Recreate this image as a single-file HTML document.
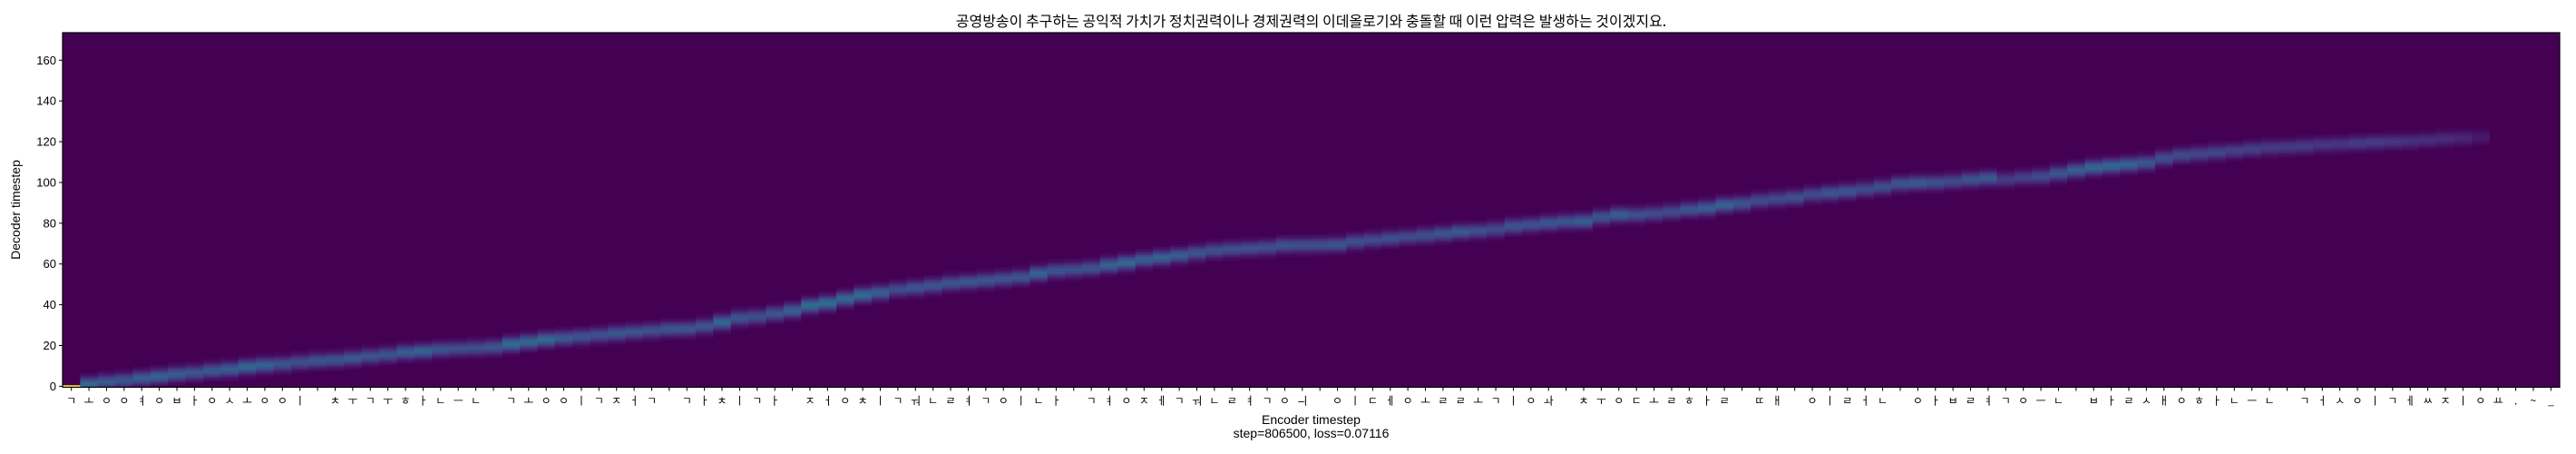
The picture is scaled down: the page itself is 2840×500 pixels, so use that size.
<!DOCTYPE html>
<html><head><meta charset="utf-8">
<style>
html,body{margin:0;padding:0;background:#fff;width:2840px;height:500px;overflow:hidden}
svg text{font-family:"Liberation Sans","Noto Sans CJK KR",sans-serif;fill:#000}
</style></head>
<body>
<svg id="chart" width="2840" height="500" xmlns="http://www.w3.org/2000/svg">
<text x="1445.5" y="29" font-size="16" text-anchor="middle" style="font-family:'Noto Sans CJK KR',sans-serif">공영방송이 추구하는 공익적 가치가 정치권력이나 경제권력의 이데올로기와 충돌할 때 이런 압력은 발생하는 것이겠지요.</text>
<g id="cells"></g>
<g id="xaxis"></g>
<g id="yaxis"></g>
<text x="1445.5" y="467" font-size="14" text-anchor="middle">Encoder timestep</text>
<text x="1445.5" y="482" font-size="14" text-anchor="middle">step=806500, loss=0.07116</text>
<text transform="translate(22,231) rotate(-90)" font-size="14" text-anchor="middle">Decoder timestep</text>
</svg>
<script>
const sentence = "공영방송이 추구하는 공익적 가치가 정치권력이나 경제권력의 이데올로기와 충돌할 때 이런 압력은 발생하는 것이겠지요.~_";
const yTicks = [0,20,40,60,80,100,120,140,160];
const decoderSteps = 174;
// peak decoder timestep for each encoder column
const alignCenter = [0.4,1,2.2,3,4,4.9,6,6.7,7.7,8.4,9.6,10.4,11,11.9,12.6,13,13.8,14.8,15.6,16.7,17.3,18.2,18.5,18.8,19.3,20.7,21.8,23,23.7,24.4,25.2,26,26.7,27.4,28.1,
28.3,29.5,31.5,33.5,34.2,35.7,37.2,39.7,40.9,43,44.9,46,47.6,48.4,49.4,50.6,51.3,52,52.8,53.6,55.4,56.8,57.3,58,59.5,60.7,62.2,63.2,64.3,65.5,66.7,67.3,67.7,68.2,69.2,
69.3,69.4,69.6,71,71.9,72.6,73.4,74.1,74.9,75.9,76.3,77.1,78.6,79.3,80.1,80.8,81.1,83,84.2,84.2,84.8,85.7,86.8,87.5,89,89.7,91.2,92,92.7,94.2,94.9,95.7,96.7,97.9,99.4,
99.8,100,100.7,101.5,102.2,101.5,102.5,103,104.5,106,107.4,108.2,108.9,109.7,111.9,113.4,114.1,114.9,115.6,116.4,117.1,117.4,117.9,118.6,118.9,119.3,119.8,120.1,120.4,120.8,121.6,121.9,122.3,
0,0,0,0];
// peak attention weight for each encoder column
const alignPeak = [1.0,0.38,0.32,0.3,0.34,0.36,0.33,0.3,0.32,0.34,0.38,0.36,0.3,0.28,0.3,0.3,0.32,0.3,0.3,0.34,0.36,0.3,0.27,0.28,0.3,0.4,0.38,0.4,0.32,0.3,0.28,0.32,0.3,0.28,0.3,
0.3,0.3,0.38,0.3,0.28,0.3,0.34,0.4,0.4,0.38,0.4,0.34,0.26,0.3,0.3,0.3,0.3,0.3,0.3,0.3,0.36,0.3,0.28,0.3,0.36,0.38,0.34,0.36,0.34,0.3,0.28,0.28,0.28,0.28,0.3,
0.28,0.28,0.3,0.28,0.26,0.28,0.26,0.28,0.3,0.32,0.28,0.26,0.3,0.28,0.3,0.3,0.34,0.3,0.34,0.28,0.26,0.26,0.3,0.34,0.36,0.3,0.26,0.26,0.28,0.26,0.3,0.3,0.26,0.28,0.3,
0.32,0.28,0.26,0.3,0.32,0.2,0.22,0.26,0.3,0.34,0.38,0.38,0.36,0.3,0.28,0.26,0.24,0.24,0.22,0.22,0.2,0.2,0.2,0.18,0.18,0.2,0.2,0.18,0.16,0.15,0.14,0.12,0.08,
0,0,0,0];
// vertical spread (rows) of the attention band
const alignSpread = 2.3;
const peakScale = 0.88;

const L=69, R=2822, T=36, B=426.5;
const nCols = 142;
const cw=(R-L)/nCols, rh=(B-T)/decoderSteps;
function xCenter(j){return L+(j+0.5)*cw;}
function yVal(v){return B-(v+0.5)*rh;}

const VIR=[[0,[68,1,84]],[0.1,[72,36,117]],[0.2,[65,68,135]],[0.3,[53,95,141]],[0.4,[42,120,142]],[0.5,[33,145,140]],[0.6,[34,168,132]],[0.7,[68,191,112]],[0.8,[122,209,81]],[0.9,[189,223,38]],[1,[253,231,37]]];
function viridis(t){t=Math.max(0,Math.min(1,t));for(let i=1;i<VIR.length;i++){if(t<=VIR[i][0]){const a=VIR[i-1],b=VIR[i],f=(t-a[0])/(b[0]-a[0]);return 'rgb('+a[1].map((c,k)=>Math.round(c+(b[1][k]-c)*f)).join(',')+')';}}return 'rgb(253,231,37)';}

function decompose(s){const I="ㄱㄲㄴㄷㄸㄹㅁㅂㅃㅅㅆㅇㅈㅉㅊㅋㅌㅍㅎ",V="ㅏㅐㅑㅒㅓㅔㅕㅖㅗㅘㅙㅚㅛㅜㅝㅞㅟㅠㅡㅢㅣ",F=["","ㄱ","ㄲ","ㄳ","ㄴ","ㄵ","ㄶ","ㄷ","ㄹ","ㄺ","ㄻ","ㄼ","ㄽ","ㄾ","ㄿ","ㅀ","ㅁ","ㅂ","ㅄ","ㅅ","ㅆ","ㅇ","ㅈ","ㅊ","ㅋ","ㅌ","ㅍ","ㅎ"];const out=[];for(const ch of s){const c=ch.charCodeAt(0)-0xAC00;if(c>=0&&c<11172){out.push(I[Math.floor(c/588)]);out.push(V[Math.floor((c%588)/28)]);if(c%28)out.push(F[c%28]);}else out.push(ch);}return out;}
const xLabels = decompose(sentence);

const NS="http://www.w3.org/2000/svg";
function mk(tag,attrs,parent){const e=document.createElementNS(NS,tag);for(const k in attrs)e.setAttribute(k,attrs[k]);parent.appendChild(e);return e;}
const cells=document.getElementById('cells');
const bg=mk('rect',{x:L,y:T,width:R-L,height:B-T,fill:viridis(0)},cells);


for(let j=0;j<nCols;j++){
  const c=alignCenter[j]||0,p=alignPeak[j]||0;if(p<=0)continue;
  if(p>=0.99){
    const r=mk('rect',{x:(L+j*cw).toFixed(2),y:(yVal(0)-rh/2).toFixed(2),width:(cw+0.3).toFixed(2),height:(rh+0.3).toFixed(2),fill:viridis(1)},cells);
    
    
    continue;
  }
  for(let d=Math.max(0,Math.round(c-7));d<=Math.round(c+7);d++){
    const v=p*peakScale*Math.exp(-Math.pow((d-c)/alignSpread,2)/2);
    if(v<0.015)continue;
    const r=mk('rect',{x:(L+j*cw).toFixed(2),y:(yVal(d)-rh/2).toFixed(2),width:(cw+0.3).toFixed(2),height:(rh+0.3).toFixed(2),fill:viridis(v)},cells);
    
    
  }
}
const frame=mk('rect',{x:L,y:T,width:R-L,height:B-T,fill:'none',stroke:'#000','stroke-width':1.2},cells);



const xa=document.getElementById('xaxis');
for(let j=0;j<nCols;j++){
  const x=xCenter(j);
  const t=mk('line',{x1:x,x2:x,y1:B,y2:B+4,stroke:'#000','stroke-width':1},xa);
  
  
  const lb=mk('text',{x:x,y:B+19,'font-size':12,'text-anchor':'middle',style:"font-family:'Noto Sans CJK KR',sans-serif"},xa);
  lb.textContent=xLabels[j]||'';
  
  
}
const ya=document.getElementById('yaxis');
yTicks.forEach(v=>{
  const y=yVal(v);
  const t=mk('line',{x1:L-4,x2:L,y1:y,y2:y,stroke:'#000','stroke-width':1},ya);
  
  
  const lb=mk('text',{x:L-7,y:y+4.5,'font-size':13,'text-anchor':'end'},ya);
  lb.textContent=v;
  
  
});
</script>
</body></html>
